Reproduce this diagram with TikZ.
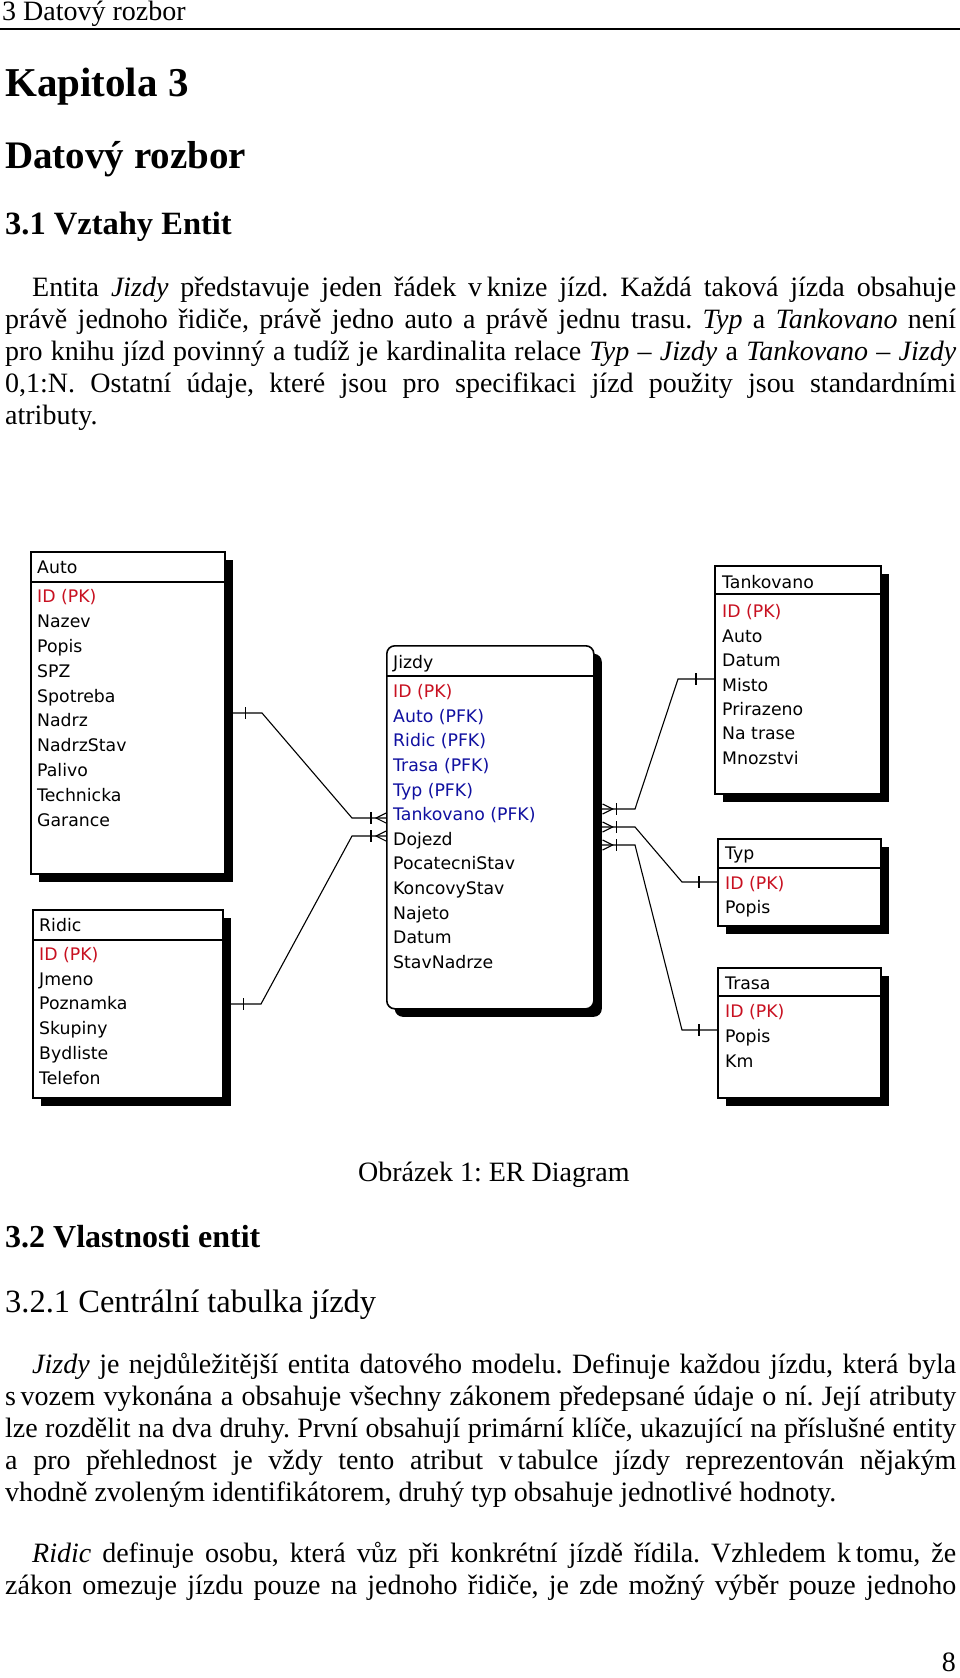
\documentclass[tikz,border=0pt]{standalone}
\usepackage{fontspec}
\setmainfont{Liberation Serif}
\newfontfamily\erfont{DejaVu Sans}
\usepackage{xcolor}
\usetikzlibrary{shadows}

\definecolor{pkred}{RGB}{200,16,32}
\definecolor{fkblue}{RGB}{16,16,160}

\frenchspacing
\newcommand{\bodyfont}{\fontsize{28}{32}\selectfont}
\newcommand{\jline}[2]{\makebox[#1pt][s]{#2}}

\begin{document}
\begin{tikzpicture}[x=1pt, y=-1pt,
    entity/.style={draw, line width=1.6pt, fill=white, inner sep=0pt, anchor=north west,
      drop shadow={shadow xshift=8pt, shadow yshift=-8pt, fill=black, opacity=1}},
    attr/.style={anchor=base west, inner sep=0pt, font=\erfont\fontsize{17.3}{20}\selectfont},
    conn/.style={line width=1.1pt},
    txt/.style={anchor=base west, inner sep=0pt, font=\bodyfont},
    onebar/.pic={\draw[conn] (0,-6) -- (0,6);},
    manyfoot/.pic={\draw[conn] (0,-5) -- (-10,0) -- (0,5);}]

  \useasboundingbox[fill=white] (0,0) rectangle (960,1678);

  % running head
  \node[txt] (runhead) at (2,21) {3 Datový rozbor};
  \draw[line width=1.5pt] (0,29) -- (960,29);

  \node[txt, font=\bfseries\fontsize{41}{44}\selectfont] (chap) at (5,96) {Kapitola 3};
  \node[txt, font=\bfseries\fontsize{39}{44}\selectfont] (chaptitle) at (5,168) {Datový rozbor};
  \node[txt, font=\bfseries\fontsize{32.5}{36}\selectfont] (sec1) at (5,234) {3.1 Vztahy Entit};

  \node[txt] (p1a) at (32,296) {\jline{924}{Entita \textit{Jizdy} představuje jeden řádek v\,knize jízd. Každá taková jízda obsahuje}};
  \node[txt] (p1b) at (5,328) {\jline{951}{právě jednoho řidiče, právě jedno auto a právě jednu trasu. \textit{Typ} a \textit{Tankovano} není}};
  \node[txt] (p1c) at (5,360) {\jline{951}{pro knihu jízd povinný a tudíž je kardinalita relace \textit{Typ – Jizdy} a \textit{Tankovano – Jizdy}}};
  \node[txt] (p1d) at (5,392) {\jline{951}{0,1:N. Ostatní údaje, které jsou pro specifikaci jízd použity jsou standardními}};
  \node[txt] (p1e) at (5,424) {atributy.};

  % entities
  \node[entity, minimum width=194pt, minimum height=322pt] (auto) at (30,551) {};
  \draw[line width=1.6pt] ([yshift=-31pt]auto.north west) -- ([yshift=-31pt]auto.north east);
  \node[attr] (auto-t) at ([xshift=7pt,yshift=-22pt]auto.north west) {Auto};
  \foreach \t/\c [count=\i] in {ID (PK)/pkred, Nazev/black, Popis/black, SPZ/black, Spotreba/black,
      Nadrz/black, NadrzStav/black, Palivo/black, Technicka/black, Garance/black}
    \node[attr, text=\c] (auto-\i) at ([xshift=7pt,yshift={-(27+24.8*\i)*1pt}]auto.north west) {\t};

  \node[entity, minimum width=190pt, minimum height=188pt] (ridic) at (32,909) {};
  \draw[line width=1.6pt] ([yshift=-31pt]ridic.north west) -- ([yshift=-31pt]ridic.north east);
  \node[attr] (ridic-t) at ([xshift=7pt,yshift=-22pt]ridic.north west) {Ridic};
  \foreach \t/\c [count=\i] in {ID (PK)/pkred, Jmeno/black, Poznamka/black, Skupiny/black,
      Bydliste/black, Telefon/black}
    \node[attr, text=\c] (ridic-\i) at ([xshift=7pt,yshift={-(26.5+24.8*\i)*1pt}]ridic.north west) {\t};

  \node[entity, rounded corners=8pt, minimum width=207pt, minimum height=363pt] (jizdy) at (386,645) {};
  \draw[line width=1.6pt] ([yshift=-31pt]jizdy.north west) -- ([yshift=-31pt]jizdy.north east);
  \node[attr] (jizdy-t) at ([xshift=7pt,yshift=-23pt]jizdy.north west) {Jizdy};
  \foreach \t/\c [count=\i] in {ID (PK)/pkred, Auto (PFK)/fkblue, Ridic (PFK)/fkblue, Trasa (PFK)/fkblue,
      Typ (PFK)/fkblue, Tankovano (PFK)/fkblue, Dojezd/black, PocatecniStav/black, KoncovyStav/black,
      Najeto/black, Datum/black, StavNadrze/black}
    \node[attr, text=\c] (jizdy-\i) at ([xshift=7pt,yshift={-(28+24.6*\i)*1pt}]jizdy.north west) {\t};

  \node[entity, minimum width=166pt, minimum height=228pt] (tank) at (714,565) {};
  \draw[line width=1.6pt] ([yshift=-29pt]tank.north west) -- ([yshift=-29pt]tank.north east);
  \node[attr] (tank-t) at ([xshift=8pt,yshift=-23pt]tank.north west) {Tankovano};
  \foreach \t/\c [count=\i] in {ID (PK)/pkred, Auto/black, Datum/black, Misto/black, Prirazeno/black,
      Na trase/black, Mnozstvi/black}
    \node[attr, text=\c] (tank-\i) at ([xshift=8pt,yshift={-(28.5+24.4*\i)*1pt}]tank.north west) {\t};

  \node[entity, minimum width=163pt, minimum height=87pt] (typ) at (717,838) {};
  \draw[line width=1.6pt] ([yshift=-30pt]typ.north west) -- ([yshift=-30pt]typ.north east);
  \node[attr] (typ-t) at ([xshift=8pt,yshift=-21pt]typ.north west) {Typ};
  \foreach \t/\c [count=\i] in {ID (PK)/pkred, Popis/black}
    \node[attr, text=\c] (typ-\i) at ([xshift=8pt,yshift={-(27+24*\i)*1pt}]typ.north west) {\t};

  \node[entity, minimum width=163pt, minimum height=130pt] (trasa) at (717,967) {};
  \draw[line width=1.6pt] ([yshift=-29pt]trasa.north west) -- ([yshift=-29pt]trasa.north east);
  \node[attr] (trasa-t) at ([xshift=8pt,yshift=-22pt]trasa.north west) {Trasa};
  \foreach \t/\c [count=\i] in {ID (PK)/pkred, Popis/black, Km/black}
    \node[attr, text=\c] (trasa-\i) at ([xshift=8pt,yshift={-(25+25*\i)*1pt}]trasa.north west) {\t};

  % relations
  \coordinate (ab) at (262,713);
  \coordinate (aj) at (352,818);
  \draw[conn] (auto.east |- ab) -- (ab) -- (aj) -- (jizdy.west |- aj);
  \pic at ([xshift=20pt]auto.east |- ab) {onebar};
  \pic at ([xshift=-15pt]jizdy.west |- aj) {onebar};
  \pic at (jizdy.west |- aj) {manyfoot};

  \coordinate (rb) at (261,1004);
  \coordinate (rj) at (352,836);
  \draw[conn] (ridic.east |- rb) -- (rb) -- (rj) -- (jizdy.west |- rj);
  \pic at ([xshift=20pt]ridic.east |- rb) {onebar};
  \pic at ([xshift=-15pt]jizdy.west |- rj) {onebar};
  \pic at (jizdy.west |- rj) {manyfoot};

  \coordinate (j1) at (635,809);
  \coordinate (k1) at (678,679);
  \draw[conn] (jizdy.east |- j1) -- (j1) -- (k1) -- (tank.west |- k1);
  \pic[xscale=-1] at ([xshift=8pt]jizdy.east |- j1) {manyfoot};
  \pic at ([xshift=22pt]jizdy.east |- j1) {onebar};
  \pic at ([xshift=-18pt]tank.west |- k1) {onebar};

  \coordinate (j2) at (635,827);
  \coordinate (k2) at (682,882);
  \draw[conn] (jizdy.east |- j2) -- (j2) -- (k2) -- (typ.west |- k2);
  \pic[xscale=-1] at ([xshift=8pt]jizdy.east |- j2) {manyfoot};
  \pic at ([xshift=22pt]jizdy.east |- j2) {onebar};
  \pic at ([xshift=-18pt]typ.west |- k2) {onebar};

  \coordinate (j3) at (635,845);
  \coordinate (k3) at (682,1030);
  \draw[conn] (jizdy.east |- j3) -- (j3) -- (k3) -- (trasa.west |- k3);
  \pic[xscale=-1] at ([xshift=8pt]jizdy.east |- j3) {manyfoot};
  \pic at ([xshift=22pt]jizdy.east |- j3) {onebar};
  \pic at ([xshift=-18pt]trasa.west |- k3) {onebar};

  \node[txt] (caption) at (358,1181) {Obrázek 1: ER Diagram};
  \node[txt, font=\bfseries\fontsize{32}{35}\selectfont] (sec2) at (5,1247) {3.2 Vlastnosti entit};
  \node[txt, font=\fontsize{32.5}{36}\selectfont] (sec21) at (5,1312) {3.2.1 Centrální tabulka jízdy};

  \node[txt] (p2a) at (32,1373) {\jline{924}{\textit{Jizdy} je nejdůležitější entita datového modelu. Definuje každou jízdu, která byla}};
  \node[txt] (p2b) at (5,1405) {\jline{951}{s\,vozem vykonána a obsahuje všechny zákonem předepsané údaje o ní. Její atributy}};
  \node[txt] (p2c) at (5,1437) {\jline{951}{lze rozdělit na dva druhy. První obsahují primární klíče, ukazující na příslušné entity}};
  \node[txt] (p2d) at (5,1469) {\jline{951}{a pro přehlednost je vždy tento atribut v\,tabulce jízdy reprezentován nějakým}};
  \node[txt] (p2e) at (5,1501) {vhodně zvoleným identifikátorem, druhý typ obsahuje jednotlivé hodnoty.};

  \node[txt] (p3a) at (32,1562) {\jline{924}{\textit{Ridic} definuje osobu, která vůz při konkrétní jízdě řídila. Vzhledem k\,tomu, že}};
  \node[txt] (p3b) at (5,1594) {\jline{951}{zákon omezuje jízdu pouze na jednoho řidiče, je zde možný výběr pouze jednoho}};

  \node[txt, anchor=base east] (pageno) at (956,1671) {8};
\end{tikzpicture}
\end{document}
